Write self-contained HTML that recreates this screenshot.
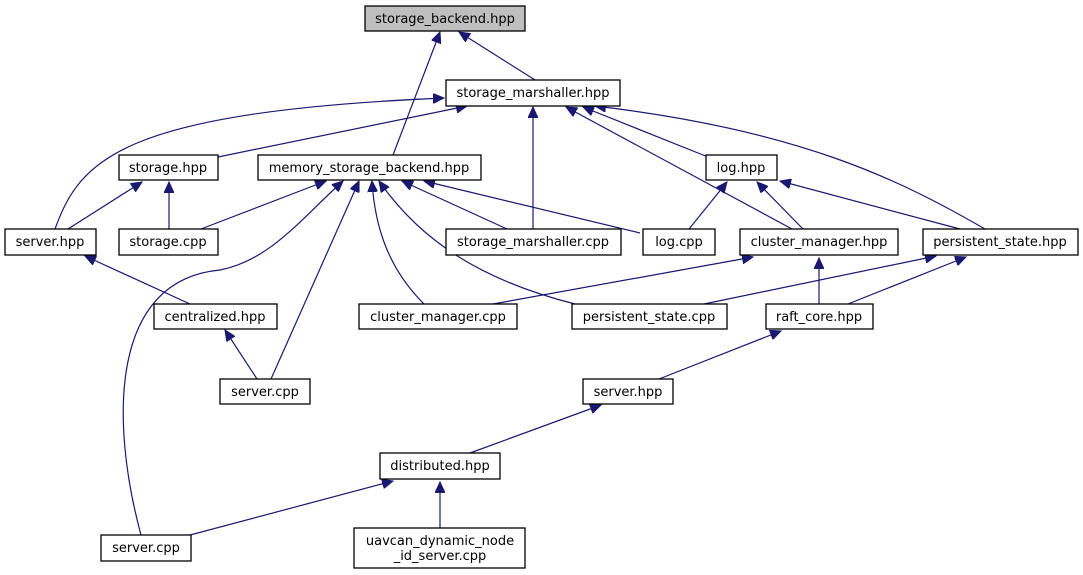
<!DOCTYPE html>
<html><head><meta charset="utf-8"><style>
html,body{margin:0;padding:0;background:#fff;}
svg{display:block;}
text{font-family:"DejaVu Sans","Liberation Sans",sans-serif;font-size:13px;fill:#000;}
.n{fill:#fff;stroke:#000;stroke-width:1.3;}
.e{fill:none;stroke:#191970;stroke-width:1.2;}
</style></head><body>
<svg width="1083" height="575" viewBox="0 0 1083 575">
<defs>
<marker id="a" markerUnits="userSpaceOnUse" markerWidth="12" markerHeight="10" refX="11" refY="5" orient="auto">
<polygon points="0,0 11,5 0,10" fill="#191970" stroke="#191970"/>
</marker>
</defs>
<g class="e" marker-end="url(#a)">
<path d="M535,80 L459,32"/>
<path d="M393,155 L440,32"/>
<path d="M218,157 L467,106"/>
<path d="M55,229 C80,160 120,112 444,98"/>
<path d="M533,229 L533,107"/>
<path d="M708,157 L583,107"/>
<path d="M792,229 L566,107"/>
<path d="M985,229 C900,180 800,130 595,106"/>
<path d="M68,229 L142,182"/>
<path d="M169,229 L169,182"/>
<path d="M201,229 L326,181"/>
<path d="M141,535 C110,420 110,280 220,270 C270,260 300,220 343,181"/>
<path d="M271,379 L359,181"/>
<path d="M424,304 C390,270 375,230 372,181"/>
<path d="M575,304 C480,280 420,240 379,181"/>
<path d="M507,229 L402,181"/>
<path d="M640,233 L424,181"/>
<path d="M689,229 L727,182"/>
<path d="M803,229 L757,182"/>
<path d="M960,229 L780,181"/>
<path d="M190,304 L85,256"/>
<path d="M257,379 L225,330"/>
<path d="M493,304 L753,257"/>
<path d="M819,304 L819,258"/>
<path d="M704,304 L936,256"/>
<path d="M848,304 L966,257"/>
<path d="M659,379 L781,331"/>
<path d="M470,453 L601,405"/>
<path d="M190,535 L393,481"/>
<path d="M440,528 L440,482"/>
</g>
<rect x="365" y="6" width="160" height="25" fill="#bfbfbf" stroke="#000" stroke-width="1.3"/>
<text x="445" y="23" text-anchor="middle">storage_backend.hpp</text>
<rect class="n" x="446" y="80" width="174" height="26"/><text x="533" y="97" text-anchor="middle">storage_marshaller.hpp</text>
<rect class="n" x="119" y="155" width="99" height="25"/><text x="168" y="172" text-anchor="middle">storage.hpp</text>
<rect class="n" x="258" y="155" width="223" height="25"/><text x="369" y="172" text-anchor="middle">memory_storage_backend.hpp</text>
<rect class="n" x="706" y="155" width="71" height="25"/><text x="741" y="172" text-anchor="middle">log.hpp</text>
<rect class="n" x="5" y="229" width="91" height="26"/><text x="50" y="246" text-anchor="middle">server.hpp</text>
<rect class="n" x="119" y="229" width="99" height="26"/><text x="168" y="246" text-anchor="middle">storage.cpp</text>
<rect class="n" x="446" y="229" width="175" height="26"/><text x="533" y="246" text-anchor="middle">storage_marshaller.cpp</text>
<rect class="n" x="643" y="229" width="72" height="26"/><text x="679" y="246" text-anchor="middle">log.cpp</text>
<rect class="n" x="740" y="229" width="158" height="26"/><text x="819" y="246" text-anchor="middle">cluster_manager.hpp</text>
<rect class="n" x="923" y="229" width="155" height="26"/><text x="1000" y="246" text-anchor="middle">persistent_state.hpp</text>
<rect class="n" x="154" y="304" width="123" height="25"/><text x="215" y="321" text-anchor="middle">centralized.hpp</text>
<rect class="n" x="359" y="304" width="158" height="25"/><text x="438" y="321" text-anchor="middle">cluster_manager.cpp</text>
<rect class="n" x="572" y="304" width="155" height="25"/><text x="649" y="321" text-anchor="middle">persistent_state.cpp</text>
<rect class="n" x="766" y="304" width="107" height="25"/><text x="819" y="321" text-anchor="middle">raft_core.hpp</text>
<rect class="n" x="220" y="379" width="90" height="25"/><text x="265" y="396" text-anchor="middle">server.cpp</text>
<rect class="n" x="583" y="379" width="90" height="25"/><text x="628" y="396" text-anchor="middle">server.hpp</text>
<rect class="n" x="380" y="453" width="120" height="26"/><text x="440" y="470" text-anchor="middle">distributed.hpp</text>
<rect class="n" x="101" y="535" width="90" height="26"/><text x="146" y="552" text-anchor="middle">server.cpp</text>
<rect class="n" x="354" y="528" width="171" height="40"/>
<text x="440" y="545" text-anchor="middle">uavcan_dynamic_node</text>
<text x="440" y="560" text-anchor="middle">_id_server.cpp</text>
</svg>
</body></html>
